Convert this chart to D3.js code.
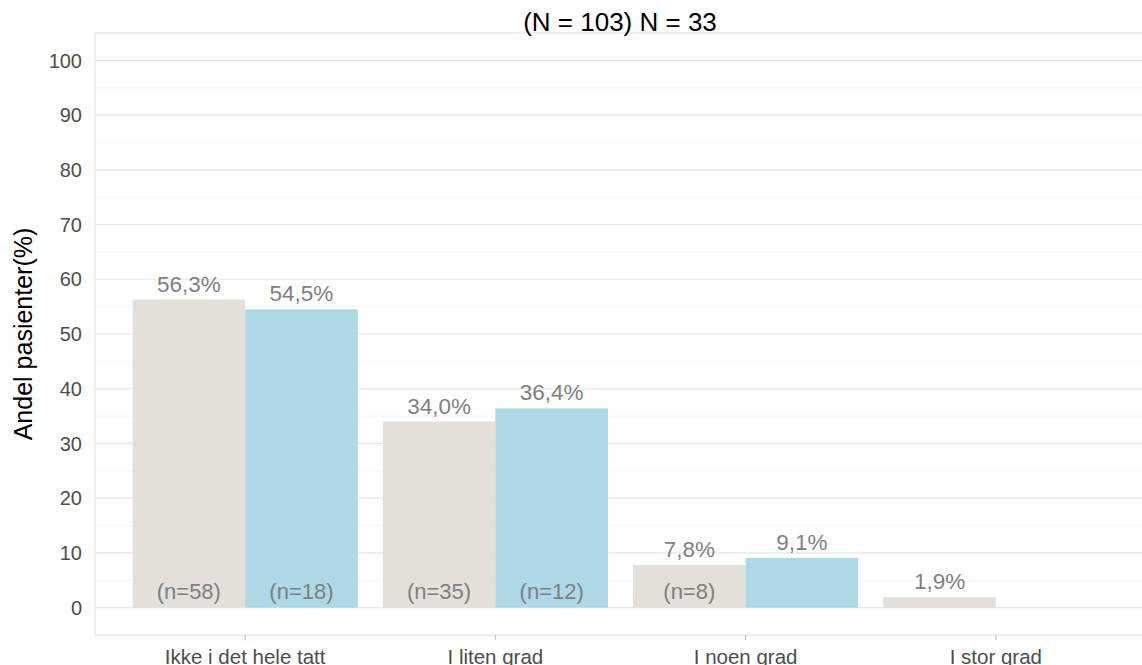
<!DOCTYPE html>
<html>
<head>
<meta charset="utf-8">
<script src="https://cdn.jsdelivr.net/npm/d3@7"></script>
<style>
  body { margin: 0; background: #fff; }
  svg { display: block; font-family: "Liberation Sans", Arial, sans-serif; }
</style>
</head>
<body>
<div id="chart"></div>
<script>
// Data
const categories = ["Ikke i det hele tatt", "I liten grad", "I noen grad", "I stor grad"];
const series = ["(N = 103)", "N = 33"];
const greyPct = [56.3, 34.0, 7.8, 1.9];
const bluePct = [54.5, 36.4, 9.1, null];
const greyN = [58, 35, 8, null];
const blueN = [18, 12, null, null];
const yTicks = [0, 10, 20, 30, 40, 50, 60, 70, 80, 90, 100];
const yMinor = [-5, 5, 15, 25, 35, 45, 55, 65, 75, 85, 95, 105];

const width = 1142, height = 665;
const panel = { left: 95, top: 33, right: 1146, bottom: 635 };
const colors = ["#E3E0DA", "#ADD8E6"];

const svg = d3.select("#chart").append("svg")
    .attr("width", width)
    .attr("height", height);

// Scales: discrete x with 0.6 expansion, y from -5 to 105
const step = (panel.right - panel.left) / (categories.length - 1 + 1.2);
const x = d3.scalePoint()
    .domain(categories)
    .range([panel.left + 0.6 * step, panel.right - 0.6 * step]);
const y = d3.scaleLinear().domain([-5, 105]).range([panel.bottom, panel.top]);
const dodge = d3.scaleBand().domain(series).range([-0.45 * step, 0.45 * step]);

// Grid
svg.append("g")
    .selectAll("line")
    .data(yMinor)
    .enter()
    .append("line")
    .attr("x1", panel.left).attr("x2", panel.right)
    .attr("y1", d => y(d)).attr("y2", d => y(d))
    .attr("stroke", "#F4F3F0")
    .attr("stroke-width", 0.8);

svg.append("g")
    .selectAll("line")
    .data(yTicks)
    .enter()
    .append("line")
    .attr("x1", panel.left).attr("x2", panel.right)
    .attr("y1", d => y(d)).attr("y2", d => y(d))
    .attr("stroke", "#E8E6E1")
    .attr("stroke-width", 1.2);

// Panel border
svg.append("rect")
    .attr("x", panel.left).attr("y", panel.top)
    .attr("width", panel.right - panel.left)
    .attr("height", panel.bottom - panel.top)
    .attr("fill", "none")
    .attr("stroke", "#E8E6E1")
    .attr("stroke-width", 1.2);

// Build rows for bars
const rows = [];
categories.forEach((c, i) => {
    rows.push({ cat: c, s: series[0], pct: greyPct[i], n: greyN[i], col: colors[0] });
    rows.push({ cat: c, s: series[1], pct: bluePct[i], n: blueN[i], col: colors[1] });
});
const bars = rows.filter(d => d.pct != null);

svg.append("g")
    .selectAll("rect")
    .data(bars)
    .enter()
    .append("rect")
    .attr("x", d => x(d.cat) + dodge(d.s))
    .attr("width", dodge.bandwidth())
    .attr("y", d => y(d.pct))
    .attr("height", d => y(0) - y(d.pct))
    .attr("fill", d => d.col);

// Percent labels
svg.append("g")
    .selectAll("text")
    .data(bars)
    .enter()
    .append("text")
    .attr("x", d => x(d.cat) + dodge(d.s) + dodge.bandwidth() / 2)
    .attr("y", d => y(d.pct) - 8)
    .attr("text-anchor", "middle")
    .attr("fill", "#7F7F7F")
    .style("font-size", "22.5px")
    .text(d => d.pct.toFixed(1).replace(".", ",") + "%");

// n labels
svg.append("g")
    .selectAll("text")
    .data(rows.filter(d => d.n != null))
    .enter()
    .append("text")
    .attr("x", d => x(d.cat) + dodge(d.s) + dodge.bandwidth() / 2)
    .attr("y", y(1.5))
    .attr("text-anchor", "middle")
    .attr("fill", "#7F7F7F")
    .style("font-size", "22px")
    .text(d => "(n=" + d.n + ")");

// Y axis labels
svg.append("g")
    .selectAll("text")
    .data(yTicks)
    .enter()
    .append("text")
    .attr("x", 82)
    .attr("y", d => y(d))
    .attr("dy", "0.36em")
    .attr("text-anchor", "end")
    .attr("fill", "#4D4D4D")
    .style("font-size", "20px")
    .text(d => d);

// X axis ticks and labels
const xg = svg.append("g");
xg.selectAll("line")
    .data(categories)
    .enter()
    .append("line")
    .attr("x1", d => x(d)).attr("x2", d => x(d))
    .attr("y1", panel.bottom).attr("y2", panel.bottom + 5)
    .attr("stroke", "#BDBDBD");
xg.selectAll("text")
    .data(categories)
    .enter()
    .append("text")
    .attr("x", d => x(d))
    .attr("y", 664)
    .attr("text-anchor", "middle")
    .attr("fill", "#4D4D4D")
    .style("font-size", "20.5px")
    .text(d => d);

// Axis title
svg.append("text")
    .attr("transform", `translate(32,${(panel.top + panel.bottom) / 2}) rotate(-90)`)
    .attr("text-anchor", "middle")
    .attr("fill", "#000")
    .style("font-size", "25px")
    .text("Andel pasienter(%)");

// Title
svg.append("text")
    .attr("x", 620)
    .attr("y", 31)
    .attr("text-anchor", "middle")
    .attr("fill", "#000")
    .style("font-size", "26px")
    .text(series.join(" "));
</script>
</body>
</html>
